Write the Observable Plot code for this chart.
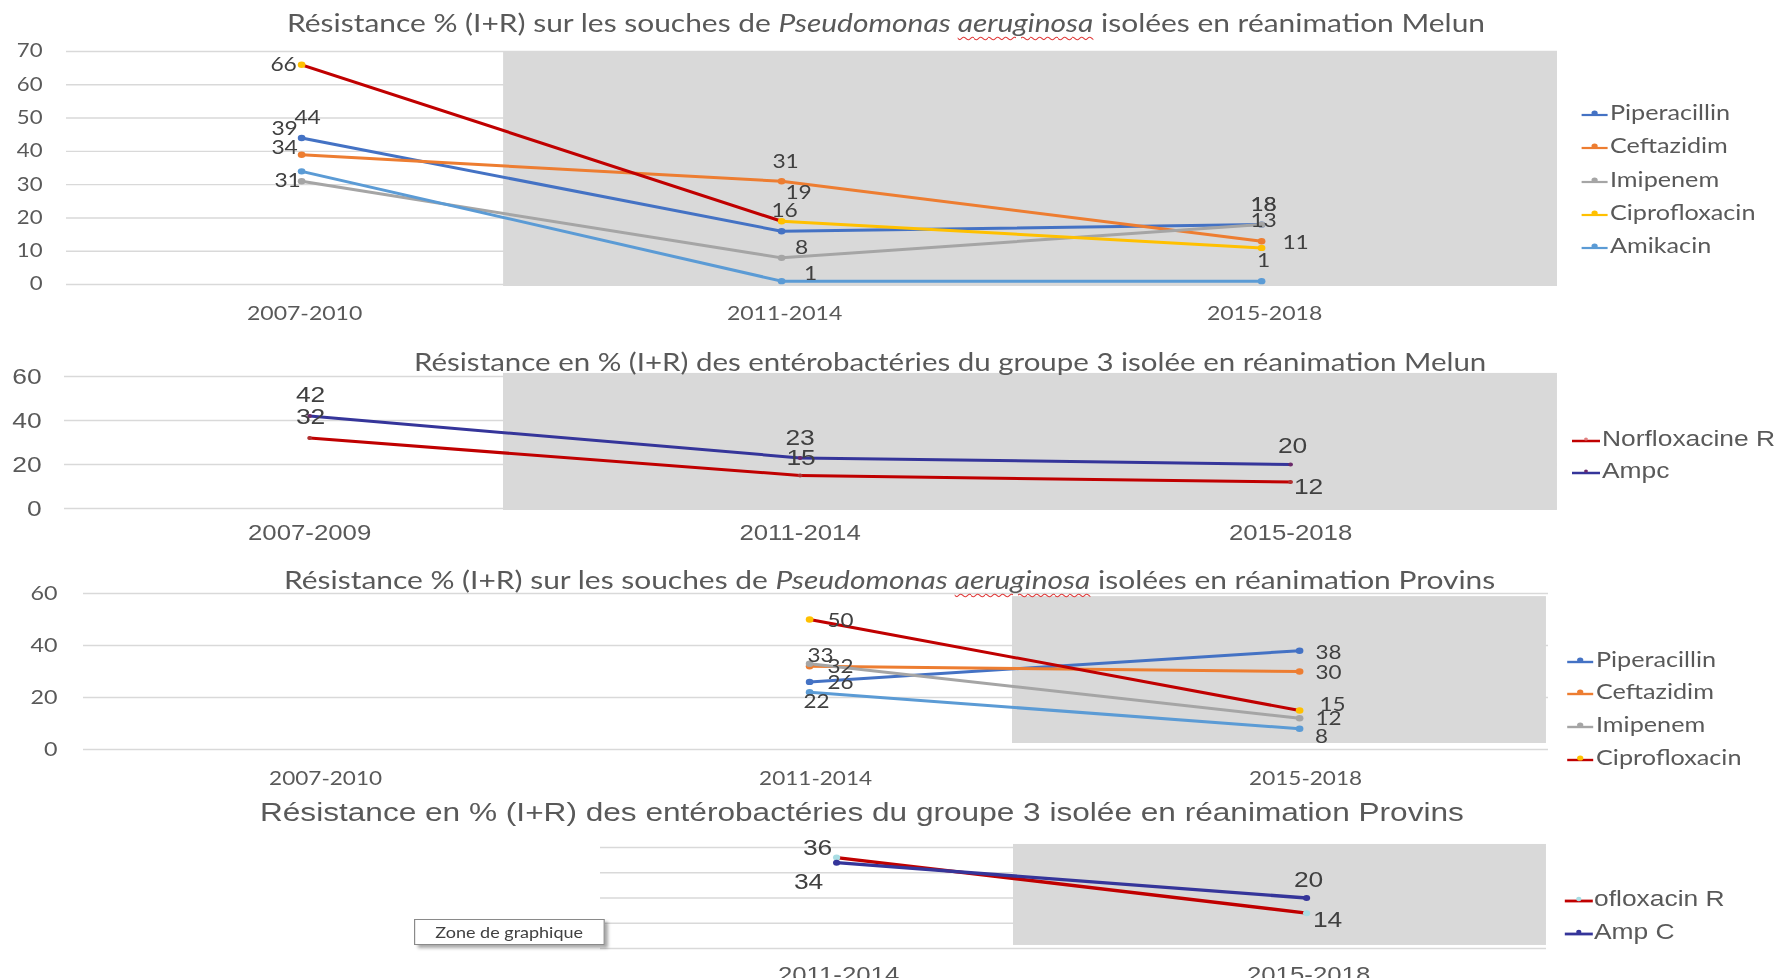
<!DOCTYPE html>
<html><head><meta charset="utf-8">
<script src="https://cdn.jsdelivr.net/npm/d3@7"></script>
<script src="https://cdn.jsdelivr.net/npm/@observablehq/plot@0.6"></script>
<style>
html,body{margin:0;padding:0;background:#fff;overflow:hidden;}
#wrap{position:relative;width:1777px;height:978px;overflow:hidden;background:#fff;}
#stage{position:absolute;left:0;top:0;width:1480.833px;height:978px;transform:scaleX(1.2);transform-origin:0 0;}
.title,.legtext{position:absolute;white-space:nowrap;line-height:1;color:#595959;}
.swatch{position:absolute;overflow:visible;}
.spell{text-decoration:underline wavy #e03a3a;text-decoration-thickness:1px;text-underline-offset:4px;}
#zone{position:absolute;background:#fff;border:1px solid #8a8a8a;box-shadow:3px 3px 3px rgba(0,0,0,0.35);
  color:#404040;font-family:Lato,sans-serif;font-size:15px;line-height:24px;text-align:center;white-space:nowrap;}
</style></head>
<body><div id="wrap"><div id="stage"></div></div>
<script>
// ---------------- DATA ----------------
const periodsA = ["2007-2010", "2011-2014", "2015-2018"];
const periodsB = ["2007-2009", "2011-2014", "2015-2018"];
const periodsC = ["2011-2014", "2015-2018"];

// Panel 1 : Pseudomonas aeruginosa, réanimation Melun
const melunPseudoPiperacillin  = [44, 16, 18];
const melunPseudoCeftazidim    = [39, 31, 13];
const melunPseudoImipenem      = [31, 8, 18];
const melunPseudoCiprofloxacin = [66, 19, 11];
const melunPseudoAmikacin      = [34, 1, 1];

// Panel 2 : entérobactéries groupe 3, réanimation Melun
const melunEnteroNorfloxacine = [32, 15, 12];
const melunEnteroAmpc         = [42, 23, 20];

// Panel 3 : Pseudomonas aeruginosa, réanimation Provins
const provinsPseudoPiperacillin  = [null, 26, 38];
const provinsPseudoCeftazidim    = [null, 32, 30];
const provinsPseudoImipenem      = [null, 33, 12];
const provinsPseudoCiprofloxacin = [null, 50, 15];
const provinsPseudoAmikacin      = [null, 22, 8];

// Panel 4 : entérobactéries groupe 3, réanimation Provins
const provinsEnteroNorfloxacine = [36, 14];
const provinsEnteroAmpC         = [34, 20];

const yTicks70 = [0, 10, 20, 30, 40, 50, 60, 70];
const yTicks60 = [0, 20, 40, 60];
const yTicks40 = [0, 10, 20, 30, 40];

const legend1 = ["Piperacillin", "Ceftazidim", "Imipenem", "Ciprofloxacin", "Amikacin"];
const legend2 = ["Norfloxacine R", "Ampc"];
const legend3 = ["Piperacillin", "Ceftazidim", "Imipenem", "Ciprofloxacin"];
const legend4 = ["ofloxacin R", "Amp C"];

const title1 = [["Résistance % (I+R) sur les souches de ", 0], ["Pseudomonas ", 1], ["aeruginosa", 2], [" isolées en réanimation Melun", 0]];
const title2 = [["Résistance en % (I+R) des entérobactéries du groupe 3 isolée en réanimation Melun", 0]];
const title3 = [["Résistance % (I+R) sur les souches de ", 0], ["Pseudomonas ", 1], ["aeruginosa", 2], [" isolées en réanimation Provins", 0]];
const title4 = [["Résistance en % (I+R) des entérobactéries du groupe 3 isolée en réanimation Provins", 0]];
const tooltipText = "Zone de graphique";

// ---------------- STYLE / LAYOUT ----------------
const S = 1.2, W = 1777 / S, H = 978;
const FONT_C = "Lato, 'Open Sans', sans-serif";
const FONT_A = "'Liberation Sans', Arial, sans-serif";
const cPip = "#4472C4", cCef = "#ED7D31", cImi = "#A5A5A5", cCip = "#FFC000", cAmi = "#5B9BD5",
      cRed = "#C00000", cNavy = "#35359A";
const stage = document.getElementById("stage");

function panel(cfg) {
  const toX = px => (px - cfg.p0) / cfg.d;
  const points = [], segs = [];
  cfg.series.forEach(s => {
    s.values.forEach((v, k) => {
      if (v == null) return;
      points.push({i: k + cfg.startIdx, v, name: s.name, k, marker: s.marker});
      const nv = s.values[k + 1];
      if (nv != null && k + 1 < s.values.length) {
        segs.push({xa: k + cfg.startIdx, ya: v, xb: k + 1 + cfg.startIdx, yb: nv,
                   color: Array.isArray(s.color) ? s.color[k] : s.color});
      }
    });
  });
  const labelMarks = points.map(p => {
    const off = cfg.offsets[p.name + "|" + p.k] || [0, -20];
    return Plot.text([p], {x: "i", y: "v", text: d => String(d.v), dx: off[0] / S, dy: off[1],
      fill: "#404040", fontSize: cfg.fs.data, fontFamily: cfg.font});
  });
  const xLabels = cfg.periods.map((label, k) => ({i: k + cfg.startIdx, label}));
  const marks = [
    Plot.ruleY(cfg.yTicks, {stroke: "#d9d9d9", strokeWidth: 1.4}),
    Plot.rect([cfg.shade], {x1: d => d[0], x2: d => d[1], y1: d => d[2], y2: d => d[3], fill: "#d9d9d9"}),
    Plot.link(segs, {x1: "xa", y1: "ya", x2: "xb", y2: "yb", stroke: "color", strokeWidth: cfg.lw, strokeLinecap: "round"}),
    Plot.dot(points, {x: "i", y: "v", fill: "marker", r: cfg.r}),
    ...labelMarks,
    Plot.text(xLabels, {x: "i", text: "label", frameAnchor: "bottom", lineAnchor: "middle",
      dx: cfg.xDx / S, dy: cfg.xDy, fill: "#595959", fontSize: cfg.fs.x, fontFamily: cfg.font})
  ];
  if (cfg.showY) {
    marks.push(Plot.text(cfg.yTicks, {y: t => t, text: t => String(t), frameAnchor: "left", textAnchor: "end",
      lineAnchor: "middle", dx: -cfg.yPad / S, fill: "#595959", fontSize: cfg.fs.y, fontFamily: cfg.font}));
  }
  const svg = Plot.plot({
    width: W, height: H,
    marginLeft: cfg.gridL / S, marginRight: W - cfg.gridR / S,
    marginTop: cfg.yTop, marginBottom: H - cfg.y0,
    x: {type: "linear", domain: [toX(cfg.gridL), toX(cfg.gridR)], axis: null},
    y: {domain: [0, cfg.yMax], axis: null},
    color: {type: "identity"},
    style: "position:absolute;left:0;top:0;background:transparent;overflow:visible;max-width:none;",
    marks
  });
  stage.appendChild(svg);
}

function addTitle(parts, x1, x2, yc, family, color) {
  const el = document.createElement("div");
  el.className = "title";
  el.style.fontFamily = family;
  el.style.fontSize = "24px";
  if (color) el.style.color = color;
  parts.forEach(([t, kind]) => {
    const sp = document.createElement(kind ? "i" : "span");
    if (kind === 2) sp.className = "spell";
    sp.textContent = t;
    el.appendChild(sp);
  });
  stage.appendChild(el);
  const fs = 24 * ((x2 - x1) / S) / el.offsetWidth;
  el.style.fontSize = fs + "px";
  el.style.left = (x1 / S) + "px";
  el.style.top = (yc - fs * (family === FONT_A ? 0.54 : 0.6)) + "px";
}

function addLegend(labels, lines, markers, lx1, lx2, tx, ys, family, fs, lw, r) {
  labels.forEach((lab, j) => {
    const w = (lx2 - lx1) / S;
    const ns = "http://www.w3.org/2000/svg";
    const sv = document.createElementNS(ns, "svg");
    sv.setAttribute("class", "swatch");
    sv.setAttribute("width", w); sv.setAttribute("height", 12);
    sv.style.left = (lx1 / S) + "px"; sv.style.top = (ys[j] - 6) + "px";
    const ln = document.createElementNS(ns, "line");
    ln.setAttribute("x1", 0); ln.setAttribute("x2", w); ln.setAttribute("y1", 7); ln.setAttribute("y2", 7);
    ln.setAttribute("stroke", lines[j]); ln.setAttribute("stroke-width", lw);
    const c = document.createElementNS(ns, "circle");
    c.setAttribute("cx", w / 2); c.setAttribute("cy", 5); c.setAttribute("r", r);
    c.setAttribute("fill", markers[j]);
    sv.appendChild(ln); sv.appendChild(c);
    stage.appendChild(sv);
    const t = document.createElement("div");
    t.className = "legtext";
    t.textContent = lab;
    t.style.fontFamily = family; t.style.fontSize = fs + "px";
    t.style.left = (tx / S) + "px";
    t.style.top = (ys[j] - fs * (family === FONT_A ? 0.54 : 0.6)) + "px";
    stage.appendChild(t);
  });
}

// ---------------- PANEL 1 ----------------
panel({
  p0: 301, d: 480, y0: 284, yTop: 51, yMax: 70, gridL: 66, gridR: 1557,
  startIdx: 0, periods: periodsA, yTicks: yTicks70, showY: true, yPad: 24, xDy: 29, xDx: 3,
  shade: [0.421, 2.6167, -0.6, 70], lw: 3, r: 3.2, font: FONT_C,
  fs: {data: 19, x: 19.2, y: 18.5},
  series: [
    {name: "Piperacillin", values: melunPseudoPiperacillin, color: cPip, marker: cPip},
    {name: "Ceftazidim", values: melunPseudoCeftazidim, color: cCef, marker: cCef},
    {name: "Imipenem", values: melunPseudoImipenem, color: cImi, marker: cImi},
    {name: "Ciprofloxacin", values: melunPseudoCiprofloxacin, color: [cRed, cCip], marker: cCip},
    {name: "Amikacin", values: melunPseudoAmikacin, color: cAmi, marker: cAmi}
  ],
  offsets: {
    "Piperacillin|0": [6, -20], "Piperacillin|1": [3, -20], "Piperacillin|2": [2, -20],
    "Ceftazidim|0": [-17, -26], "Ceftazidim|1": [4, -19], "Ceftazidim|2": [2, -20],
    "Imipenem|0": [-14, 0], "Imipenem|1": [20, -10], "Imipenem|2": [2, -20],
    "Ciprofloxacin|0": [-18, 0], "Ciprofloxacin|1": [17, -28], "Ciprofloxacin|2": [34, -5],
    "Amikacin|0": [-17, -23], "Amikacin|1": [29, -7], "Amikacin|2": [2, -20]
  }
});
addTitle(title1, 287, 1486, 25, FONT_C);
addLegend(legend1, [cPip, cCef, cImi, cCip, cAmi], [cPip, cCef, cImi, cCip, cAmi],
  1582, 1608, 1610, [114, 147, 181, 214, 247], FONT_C, 21, 2.2, 2.6);

// ---------------- PANEL 2 ----------------
panel({
  p0: 309, d: 490.5, y0: 508, yTop: 376, yMax: 60, gridL: 64, gridR: 1557,
  startIdx: 0, periods: periodsB, yTicks: yTicks60, showY: true, yPad: 23, xDy: 25, xDx: 0,
  shade: [0.3955, 2.5443, -0.9, 61.4], lw: 3, r: 2, font: FONT_A,
  fs: {data: 22, x: 21.5, y: 22},
  series: [
    {name: "Norfloxacine R", values: melunEnteroNorfloxacine, color: cRed, marker: "#b03030"},
    {name: "Ampc", values: melunEnteroAmpc, color: cNavy, marker: "#6a2a6a"}
  ],
  offsets: {
    "Norfloxacine R|0": [1, -21], "Norfloxacine R|1": [1, -18], "Norfloxacine R|2": [18, 5],
    "Ampc|0": [1, -21], "Ampc|1": [0, -20], "Ampc|2": [2, -19]
  }
});
addTitle(title2, 414, 1487, 365, FONT_C);
addLegend(legend2, [cRed, cNavy], ["#e08080", "#6a2a6a"],
  1572, 1600, 1602, [440, 472], FONT_A, 22, 2.5, 1.6);

// ---------------- PANEL 3 ----------------
panel({
  p0: 319, d: 490, y0: 749, yTop: 593, yMax: 60, gridL: 83, gridR: 1548,
  startIdx: 0, periods: periodsA, yTicks: yTicks60, showY: true, yPad: 26, xDy: 29, xDx: 6,
  shade: [1.4143, 2.504, 2.3, 58.8], lw: 3, r: 3.2, font: FONT_C,
  fs: {data: 18.7, x: 18.8, y: 19.4},
  series: [
    {name: "Piperacillin", values: provinsPseudoPiperacillin, color: cPip, marker: cPip},
    {name: "Ceftazidim", values: provinsPseudoCeftazidim, color: cCef, marker: cCef},
    {name: "Imipenem", values: provinsPseudoImipenem, color: cImi, marker: cImi},
    {name: "Ciprofloxacin", values: provinsPseudoCiprofloxacin, color: cRed, marker: cCip},
    {name: "Amikacin", values: provinsPseudoAmikacin, color: cAmi, marker: cAmi}
  ],
  offsets: {
    "Piperacillin|1": [31, 1], "Piperacillin|2": [29, 2],
    "Ceftazidim|1": [31, 1], "Ceftazidim|2": [29, 2],
    "Imipenem|1": [11, -8], "Imipenem|2": [29, 1],
    "Ciprofloxacin|1": [31, 2], "Ciprofloxacin|2": [33, -5],
    "Amikacin|1": [7, 10], "Amikacin|2": [22, 8]
  }
});
addTitle(title3, 284, 1495, 582, FONT_C);
addLegend(legend3, [cPip, cCef, cImi, cRed], [cPip, cCef, cImi, cCip],
  1567, 1593, 1596, [661, 693, 726, 759], FONT_C, 21, 2.4, 2.6);

// ---------------- PANEL 4 ----------------
panel({
  p0: 366, d: 470, y0: 948, yTop: 847, yMax: 40, gridL: 600, gridR: 1546,
  startIdx: 1, periods: periodsC, yTicks: yTicks40, showY: false, yPad: 0, xDy: 27, xDx: 2,
  shade: [1.3766, 2.5106, 1.2, 41.2], lw: 3.4, r: 3, font: FONT_A,
  fs: {data: 22, x: 21.5, y: 22},
  series: [
    {name: "Norfloxacin R", values: provinsEnteroNorfloxacine, color: cRed, marker: "#a9dde3"},
    {name: "Amp C", values: provinsEnteroAmpC, color: cNavy, marker: cNavy}
  ],
  offsets: {
    "Norfloxacin R|0": [-19, -10], "Norfloxacin R|1": [21, 7],
    "Amp C|0": [-28, 19], "Amp C|1": [2, -18]
  }
});
addTitle(title4, 260, 1465, 813, FONT_A);
addLegend(legend4, [cRed, cNavy], ["#a9dde3", cNavy],
  1565, 1593, 1594, [900, 933], FONT_A, 22, 2.8, 2.2);

// tooltip box
const zone = document.createElement("div");
zone.id = "zone";
zone.textContent = tooltipText;
zone.style.left = (414 / S) + "px"; zone.style.top = "919px";
zone.style.width = (188 / S) + "px"; zone.style.height = "24px";
stage.appendChild(zone);
</script></body></html>
